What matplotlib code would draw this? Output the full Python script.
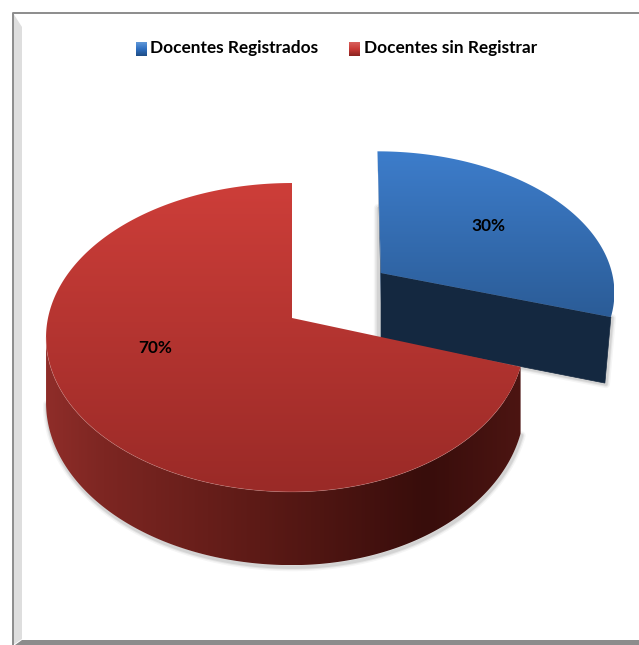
import numpy as np
import matplotlib
matplotlib.use('Agg')
import matplotlib.pyplot as plt
from matplotlib.patches import Polygon
from matplotlib.colors import LinearSegmentedColormap

categories = ['Docentes Registrados', 'Docentes sin Registrar']
shares = [30, 70]
share_labels = ['30%', '70%']

plt.rcParams['font.family'] = ['Lato', 'DejaVu Sans']

TILT = 0.126


def project(t, apex, rx_right, rx_left, ry, lean):
    # circle on a tilted plane, t in radians, seen with a bit of perspective
    u, v = np.cos(t), np.sin(t)
    w = 1 + TILT * v
    rx = np.where(u > 0, rx_right, rx_left)
    return apex[0] + (rx * u + lean * v) / w, apex[1] - ry * v / w


def depth(t, base):
    return base / (1 + TILT * np.sin(t))


def fill_gradient(ax, outline, cmap, zorder, horizontal=False):
    poly = Polygon(outline, closed=True, fc='none', ec='none', zorder=zorder)
    ax.add_patch(poly)
    grad = np.linspace(0, 1, 256)
    grad = grad.reshape(1, -1) if horizontal else grad.reshape(-1, 1)
    xs, ys = outline[:, 0], outline[:, 1]
    im = ax.imshow(grad, cmap=cmap, aspect='auto', zorder=zorder,
                   extent=(xs.min(), xs.max(), ys.max(), ys.min()))
    im.set_clip_path(poly)


def soft_edge(ax, xs, ys, dx=2, dy=2, zorder=1):
    for lw, alpha in [(6, 0.04), (4, 0.06), (2.5, 0.08)]:
        ax.plot(xs + dx, ys + dy, color='black', lw=lw, alpha=alpha, zorder=zorder,
                solid_capstyle='round')


fig = plt.figure(figsize=(6.39, 6.45), dpi=100)
ax = fig.add_axes([0, 0, 1, 1])
ax.set_xlim(0, 639)
ax.set_ylim(645, 0)
ax.axis('off')

# chart frame with the bevel on the left and bottom
ax.add_patch(Polygon([[13, 13], [22, 27], [22, 639], [13, 645]], fc='#dedede', ec='none'))
ax.plot([12.5, 12.5, 639], [645, 12.5, 12.5], color='#8c8c8c', lw=1.4)
ax.add_patch(Polygon([[15, 645], [22, 640], [639, 640], [639, 645]], fc='#8c8c8c', ec='none'))

angle_share = np.array(shares) / sum(shares) * 2 * np.pi
start = np.pi / 2

# blue slice, pulled out to the upper right
blue_t = np.linspace(start, start - angle_share[0], 120)
blue_apex = (381, 273)
bx, by = project(blue_t, blue_apex, 231, 231, 137, -4)
corner_depth = 66
face = np.array([[bx[-1], by[-1]], [blue_apex[0], blue_apex[1]],
                 [blue_apex[0], blue_apex[1] + corner_depth], [bx[-1] - 6, by[-1] + corner_depth]])
soft_edge(ax, face[:, 0][[0, 3, 2]], face[:, 1][[0, 3, 2]], dx=1, dy=1, zorder=1)
soft_edge(ax, np.array([blue_apex[0], blue_apex[0]]),
          np.array([blue_apex[1] - 65, blue_apex[1] + corner_depth]), dx=-3, dy=0, zorder=1)
ax.add_patch(Polygon(face, fc='#142840', ec='#142840', lw=0.5, zorder=2))
ax.add_patch(Polygon([[bx[0], by[0]], [blue_apex[0], blue_apex[1]],
                      [blue_apex[0], blue_apex[1] + 30]], fc='#1d3f68', ec='none', zorder=2))
fill_gradient(ax, np.vstack([[blue_apex[0], blue_apex[1]], np.column_stack([bx, by])]),
              LinearSegmentedColormap.from_list('blue', ['#3d7dcb', '#2b5c97']), 3)

# red slice, wall first and then the top
red_t = np.linspace(start, start + angle_share[1], 400)
red_apex = (292, 318)
rx, ry = project(red_t, red_apex, 231, 244, 152, 0)
rd = depth(red_t, 64)
first = np.argmin(rx)  # wall starts at the left extreme of the ellipse
wx, wy, wd = rx[first:], ry[first:], rd[first:]
soft_edge(ax, wx, wy + wd, dx=1, dy=2, zorder=4)
wall_cmap = LinearSegmentedColormap.from_list(
    'wall', [(0, '#8f2d29'), (0.12, '#7d2622'), (0.45, '#5c1a16'), (0.8, '#380d0b'), (1, '#4c1512')])
wall = np.vstack([np.column_stack([wx, wy]), np.column_stack([wx, wy + wd])[::-1]])
fill_gradient(ax, wall, wall_cmap, 5, horizontal=True)
fill_gradient(ax, np.vstack([[red_apex[0], red_apex[1]], np.column_stack([rx, ry])]),
              LinearSegmentedColormap.from_list('red', ['#cd3e39', '#9a2a27']), 6)
ax.plot(wx[:-20], wy[:-20], color='#d9a09c', lw=0.5, alpha=0.35, zorder=7)

# percent labels
label_pos = [(488, 226), (155, 348)]
for (x, y), text in zip(label_pos, share_labels):
    ax.text(x, y, text, ha='center', va='center', fontsize=12.4, fontweight='bold',
            color='black', zorder=8)

# legend
legend_x = [136, 349]
legend_cols = [('#2f6fc0', '#1f4d86', '#5f97d8'), ('#c93a36', '#8b2320', '#d8605c')]
for x, name, (c1, c2, c3) in zip(legend_x, categories, legend_cols):
    cmap = LinearSegmentedColormap.from_list('m', [c3, c1, c2])
    ax.imshow(np.linspace(0, 1, 32).reshape(-1, 1), cmap=cmap, aspect='auto',
              extent=(x, x + 11, 56, 42), zorder=8)
    ax.text(x + 14.5, 48.5, name, ha='left', va='center', fontsize=12.4, fontweight='bold',
            color='black', zorder=8)

ax.set_xlim(0, 639)
ax.set_ylim(645, 0)
fig.savefig('out.png', dpi=100, facecolor='white')
